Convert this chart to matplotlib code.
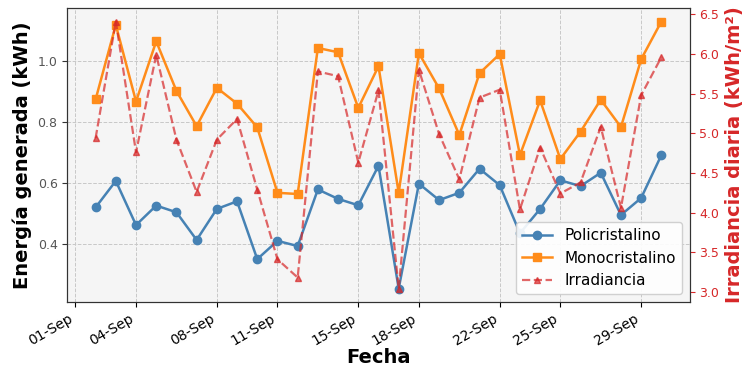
import matplotlib
matplotlib.use("Agg")
import matplotlib.pyplot as plt
import matplotlib.dates as mdates
import pandas as pd

dates = pd.date_range("2025-09-02", "2025-09-30", freq="D")
poli = [0.520, 0.607, 0.462, 0.526, 0.504, 0.413, 0.515, 0.540, 0.350, 0.410,
        0.393, 0.579, 0.548, 0.527, 0.657, 0.253, 0.598, 0.544, 0.568, 0.647,
        0.593, 0.435, 0.515, 0.609, 0.590, 0.634, 0.495, 0.551, 0.692]
mono = [0.875, 1.120, 0.868, 1.066, 0.903, 0.787, 0.913, 0.861, 0.783, 0.568,
        0.564, 1.044, 1.030, 0.847, 0.984, 0.568, 1.027, 0.911, 0.758, 0.961,
        1.024, 0.692, 0.872, 0.679, 0.769, 0.874, 0.784, 1.007, 1.131]
irr = [4.94, 6.41, 4.76, 5.99, 4.92, 4.26, 4.92, 5.18, 4.29, 3.41,
       3.18, 5.78, 5.72, 4.63, 5.54, 3.04, 5.80, 4.99, 4.42, 5.45,
       5.55, 4.04, 4.82, 4.24, 4.38, 5.08, 4.06, 5.48, 5.96]
tick_days = [1, 4, 8, 11, 15, 18, 22, 25, 29]

fig = plt.figure(figsize=(7.48, 3.71), dpi=100)
ax = fig.add_axes([0.09, 0.186, 0.832, 0.792])
ax.set_facecolor("#f5f5f5")
ax.grid(True, linestyle="--", color="#c8c8c8", linewidth=0.7)
ax.set_axisbelow(True)

l1, = ax.plot(dates, poli, "-o", color="#4682b4", lw=1.8, ms=6, label="Policristalino")
l2, = ax.plot(dates, mono, "-s", color="#ff8c1a", lw=1.8, ms=6, label="Monocristalino")
ax.set_ylabel("Energía generada (kWh)", fontsize=14, fontweight="bold")
ax.set_xlabel("Fecha", fontsize=14, fontweight="bold", labelpad=0)
ax.set_yticks([0.4, 0.6, 0.8, 1.0])
ax.tick_params(axis="y", labelsize=9, colors="#333333", labelcolor="#555555")
ax.tick_params(axis="x", labelsize=10)

ax2 = ax.twinx()
l3, = ax2.plot(dates, irr, "--^", color="#d62728", alpha=0.7, lw=1.6, ms=4, label="Irradiancia")
ax2.set_ylabel("Irradiancia diaria (kWh/m²)", fontsize=14, fontweight="bold", color="#d62728")
ax2.tick_params(axis="y", labelsize=9, colors="#d62728")
ax2.set_yticks([3.0, 3.5, 4.0, 4.5, 5.0, 5.5, 6.0, 6.5])

ticks = [pd.Timestamp(2025, 9, d) for d in tick_days]
ax.set_xticks(ticks)
ax.xaxis.set_major_formatter(mdates.DateFormatter("%d-%b"))
for lab in ax.get_xticklabels():
    lab.set_rotation(30)
    lab.set_ha("right")

for a in (ax, ax2):
    for s in a.spines.values():
        s.set_color("#333333")

ax.legend(handles=[l1, l2, l3], loc="lower right", fontsize=11, framealpha=0.9,
          borderaxespad=0.5)

fig.savefig("out.png", dpi=100)
